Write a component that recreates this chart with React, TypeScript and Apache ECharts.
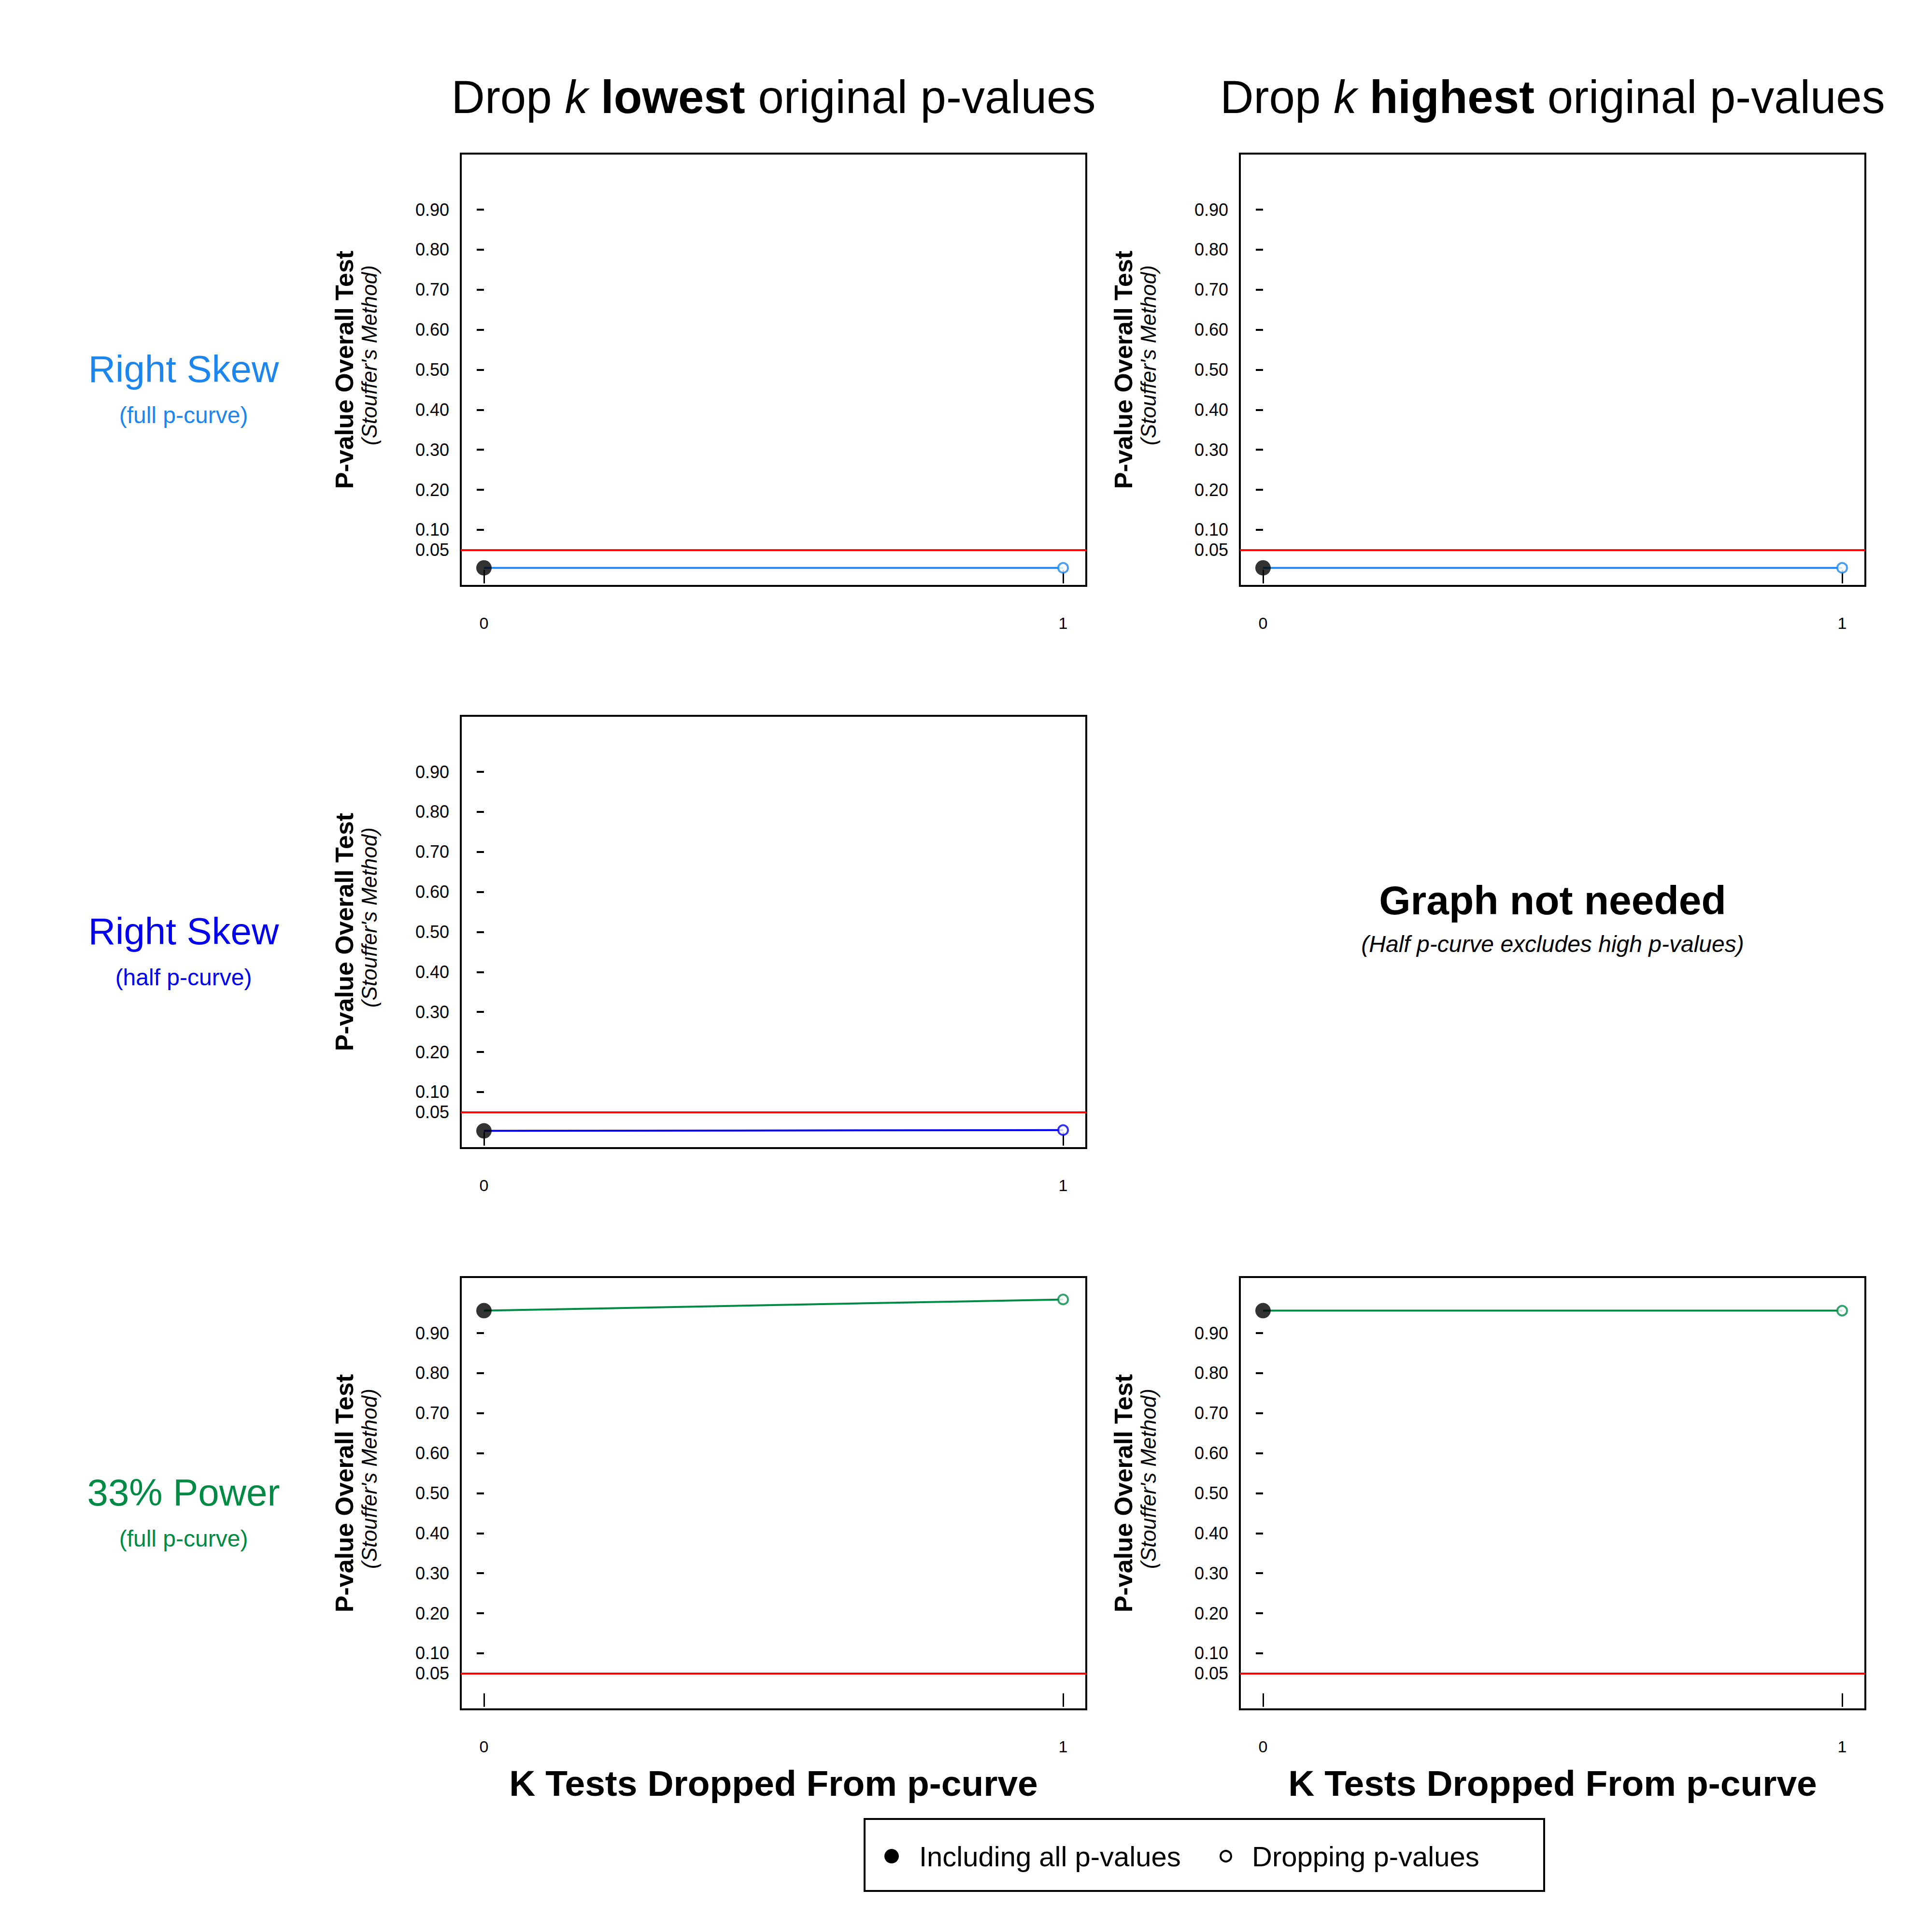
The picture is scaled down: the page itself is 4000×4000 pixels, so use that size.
import { useEffect, useRef } from 'react';
import * as echarts from 'echarts';

// k tests dropped
const kDropped = [0, 1];
// p-values of the overall (Stouffer) test, per panel
const rightFullLowest = [0.005, 0.005];
const rightFullHighest = [0.005, 0.005];
const rightHalfLowest = [0.003, 0.005];
const power33Lowest = [0.956, 0.984];
const power33Highest = [0.956, 0.956];
const yTicks = [0.01, 0.05, 0.1, 0.2, 0.3, 0.4, 0.5, 0.6, 0.7, 0.8, 0.9];
const xTicks = [0, 1];
const cutoff = 0.05;

const FONT = 'Liberation Sans, Arial, sans-serif';
const BLUE1 = '#1C86EE';
const BLUE2 = '#0000EE';
const GREEN = '#008B45';

// panel boxes in page pixels
const COL_X = [954, 2567];
const COL_W = 1295;
const ROW_Y = [318, 1482, 2644];
const ROW_H = 895;

const panels = [
  { row: 0, col: 0, values: rightFullLowest, color: BLUE1 },
  { row: 0, col: 1, values: rightFullHighest, color: BLUE1 },
  { row: 1, col: 0, values: rightHalfLowest, color: BLUE2 },
  { row: 2, col: 0, values: power33Lowest, color: GREEN },
  { row: 2, col: 1, values: power33Highest, color: GREEN },
];

const rowLabels = [
  { title: 'Right Skew', sub: '(full p-curve)', color: BLUE1 },
  { title: 'Right Skew', sub: '(half p-curve)', color: BLUE2 },
  { title: '33% Power', sub: '(full p-curve)', color: GREEN },
];

const App = () => {
  const ref = useRef<HTMLDivElement>(null);

  useEffect(() => {
    if (!ref.current) return;
    document.body.style.margin = '0';
    const chart = echarts.init(ref.current, null, { renderer: 'svg' });

    const grid = panels.map((p) => ({
      left: COL_X[p.col],
      top: ROW_Y[p.row],
      width: COL_W,
      height: ROW_H,
      show: true,
      borderColor: '#000',
      borderWidth: 4,
      backgroundColor: 'transparent',
    }));

    const xAxis = panels.map((_, i) => ({
      type: 'value',
      gridIndex: i,
      min: -0.04,
      max: 1.04,
      axisLine: { show: false },
      splitLine: { show: false },
      axisTick: { show: true, customValues: xTicks, length: 28, lineStyle: { color: '#000', width: 3 } },
      axisLabel: { customValues: xTicks, margin: 60, fontSize: 34, color: '#000', fontFamily: FONT },
    }));

    const yAxis = panels.map((_, i) => ({
      type: 'value',
      gridIndex: i,
      min: -0.04,
      max: 1.04,
      axisLine: { show: false },
      splitLine: { show: false },
      axisTick: { show: true, customValues: yTicks, length: 15, lineStyle: { color: '#000', width: 4 } },
      axisLabel: {
        customValues: yTicks,
        margin: 24,
        fontSize: 36,
        color: '#000',
        fontFamily: FONT,
        formatter: (v: number) => v.toFixed(2),
      },
    }));

    const series: any[] = [];
    panels.forEach((p, i) => {
      series.push({
        type: 'line',
        xAxisIndex: i,
        yAxisIndex: i,
        data: kDropped.map((k, j) => [k, p.values[j]]),
        symbol: 'none',
        lineStyle: { color: p.color, width: 4 },
        markLine: {
          silent: true,
          symbol: 'none',
          label: { show: false },
          lineStyle: { color: '#FF0000', width: 4, type: 'solid' },
          data: [{ yAxis: cutoff }],
        },
        z: 2,
      });
      series.push({
        type: 'scatter',
        xAxisIndex: i,
        yAxisIndex: i,
        data: [[kDropped[0], p.values[0]]],
        symbol: 'circle',
        symbolSize: 32,
        itemStyle: { color: '#000' },
        z: 3,
      });
      series.push({
        type: 'scatter',
        xAxisIndex: i,
        yAxisIndex: i,
        data: kDropped.slice(1).map((k, j) => [k, p.values[j + 1]]),
        symbol: 'circle',
        symbolSize: 20,
        itemStyle: { color: '#fff', borderColor: p.color, borderWidth: 4 },
        z: 3,
      });
    });

    const graphic: any[] = [];
    const titleRich = {
      n: { fontSize: 96, fontFamily: FONT, fill: '#000' },
      i: { fontSize: 96, fontFamily: FONT, fontStyle: 'italic', fill: '#000' },
      b: { fontSize: 96, fontFamily: FONT, fontWeight: 'bold', fill: '#000' },
    };
    const colTitles = ['lowest', 'highest'];
    colTitles.forEach((w, c) => {
      graphic.push({
        type: 'text',
        x: COL_X[c] + COL_W / 2,
        y: 200,
        style: {
          text: `{n|Drop }{i|k }{b|${w}}{n| original p-values}`,
          rich: titleRich,
          align: 'center',
          verticalAlign: 'middle',
        },
      });
    });

    rowLabels.forEach((r, i) => {
      const cy = ROW_Y[i] + ROW_H / 2;
      graphic.push({
        type: 'text',
        x: 380,
        y: cy - 2,
        style: { text: r.title, fontSize: 78, fontFamily: FONT, fill: r.color, align: 'center', verticalAlign: 'middle' },
      });
      graphic.push({
        type: 'text',
        x: 380,
        y: cy + 94,
        style: { text: r.sub, fontSize: 48, fontFamily: FONT, fill: r.color, align: 'center', verticalAlign: 'middle' },
      });
    });

    panels.forEach((p) => {
      const cy = ROW_Y[p.row] + ROW_H / 2;
      const bx = COL_X[p.col] - 241;
      graphic.push({
        type: 'text',
        x: bx,
        y: cy,
        rotation: Math.PI / 2,
        style: { text: 'P-value Overall Test', fontSize: 52, fontWeight: 'bold', fontFamily: FONT, fill: '#000', align: 'center', verticalAlign: 'middle' },
      });
      graphic.push({
        type: 'text',
        x: bx + 51,
        y: cy - 30,
        rotation: Math.PI / 2,
        style: { text: "(Stouffer's Method)", fontSize: 44, fontStyle: 'italic', fontFamily: FONT, fill: '#000', align: 'center', verticalAlign: 'middle' },
      });
    });

    COL_X.forEach((x) => {
      graphic.push({
        type: 'text',
        x: x + COL_W / 2,
        y: 3692,
        style: { text: 'K Tests Dropped From p-curve', fontSize: 75, fontWeight: 'bold', fontFamily: FONT, fill: '#000', align: 'center', verticalAlign: 'middle' },
      });
    });

    graphic.push({
      type: 'text',
      x: COL_X[1] + COL_W / 2,
      y: 1864,
      style: { text: 'Graph not needed', fontSize: 84, fontWeight: 'bold', fontFamily: FONT, fill: '#000', align: 'center', verticalAlign: 'middle' },
    });
    graphic.push({
      type: 'text',
      x: COL_X[1] + COL_W / 2,
      y: 1954,
      style: { text: '(Half p-curve excludes high p-values)', fontSize: 48, fontStyle: 'italic', fontFamily: FONT, fill: '#000', align: 'center', verticalAlign: 'middle' },
    });

    // legend
    graphic.push({
      type: 'rect',
      shape: { x: 1790, y: 3766, width: 1407, height: 149 },
      style: { fill: '#fff', stroke: '#000', lineWidth: 4 },
    });
    graphic.push({ type: 'circle', shape: { cx: 1846, cy: 3843, r: 15 }, style: { fill: '#000' } });
    graphic.push({
      type: 'text',
      x: 1903,
      y: 3843,
      style: { text: 'Including all p-values', fontSize: 58, fontFamily: FONT, fill: '#000', verticalAlign: 'middle' },
    });
    graphic.push({ type: 'circle', shape: { cx: 2538, cy: 3843, r: 11 }, style: { fill: '#fff', stroke: '#000', lineWidth: 4 } });
    graphic.push({
      type: 'text',
      x: 2592,
      y: 3843,
      style: { text: 'Dropping p-values', fontSize: 58, fontFamily: FONT, fill: '#000', verticalAlign: 'middle' },
    });

    chart.setOption({
      animation: false,
      backgroundColor: '#fff',
      grid,
      xAxis,
      yAxis,
      series,
      graphic,
    });

    return () => {
      chart.dispose();
    };
  }, []);

  return <div ref={ref} style={{ width: '4000px', height: '4000px' }} />;
};

export default App;
